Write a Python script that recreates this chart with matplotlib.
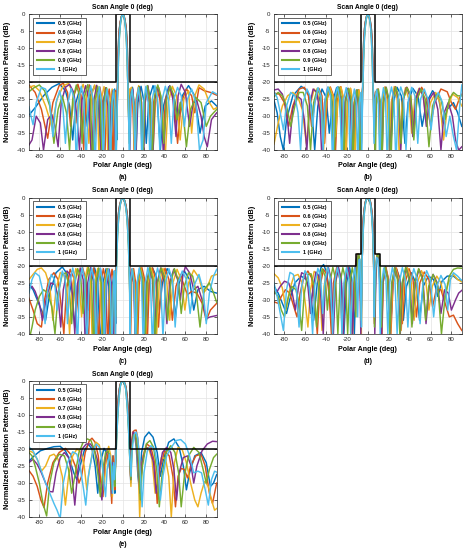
import numpy as np
import matplotlib
matplotlib.use('Agg')
import matplotlib.pyplot as plt

plt.rcParams['font.family'] = ['Liberation Sans', 'DejaVu Sans']
plt.rcParams['axes.unicode_minus'] = False

freq_labels = ['0.5 (GHz)', '0.6 (GHz)', '0.7 (GHz)', '0.8 (GHz)', '0.9 (GHz)', '1 (GHz)']
colors = ['#0072BD', '#D95319', '#EDB120', '#7E2F8E', '#77AC30', '#4DBEEE']
panel_tags = ['(a)', '(b)', '(c)', '(d)', '(e)']
x_ticks = [-80, -60, -40, -20, 0, 20, 40, 60, 80]
y_ticks = [0, -5, -10, -15, -20, -25, -30, -35, -40]

# masks (deg, dB)
mask_deg = [-90, -6.7, -6.7, 6.7, 6.7, 90]
mask_db = [-20, -20, 0, 0, -20, -20]
mask_d_deg = [-90, -11.5, -11.5, -6.7, -6.7, 6.7, 6.7, 11.5, 11.5, 90]
mask_d_db = [-20, -20, -16.5, -16.5, 0, 0, -16.5, -16.5, -20, -20]

# main beams (deg, dB): wide (low freq), mid, narrow (high freq)
beam_ab_w = [(-5, -18), (-4.7, -14), (-4.4, -10.5), (-3.9, -7), (-3.3, -4.3), (-2.4, -2.2), (-1.3, -0.6), (0, 0),
             (1.3, -0.6), (2.4, -2.2), (3.3, -4.3), (3.9, -7), (4.4, -10.5), (4.7, -14), (5, -18)]
beam_ab_m = [(-4.8, -18), (-4.5, -14), (-4.1, -10.5), (-3.6, -7), (-3, -4.3), (-2.2, -2.2), (-1.2, -0.6), (0, 0),
             (1.2, -0.6), (2.2, -2.2), (3, -4.3), (3.6, -7), (4.1, -10.5), (4.5, -14), (4.8, -18)]
beam_ab_n = [(-4.5, -18), (-4.2, -14), (-3.8, -10.5), (-3.3, -7), (-2.7, -4.3), (-2, -2.2), (-1.1, -0.6), (0, 0),
             (1.1, -0.6), (2, -2.2), (2.7, -4.3), (3.3, -7), (3.8, -10.5), (4.2, -14), (4.5, -18)]
beam_c_w = [(-6.6, -22), (-6.4, -17), (-6, -13), (-5.5, -9.5), (-4.8, -6.5), (-4, -4.2), (-3.1, -2.3), (-2, -0.95),
            (-1, -0.25), (0, 0), (1, -0.25), (2, -0.95), (3.1, -2.3), (4, -4.2), (4.8, -6.5), (5.5, -9.5),
            (6, -13), (6.4, -17), (6.6, -22)]
beam_c_m = [(-6.6, -25), (-6.3, -20), (-5.8, -14.5), (-5.2, -10.5), (-4.5, -7), (-3.8, -4.5), (-2.9, -2.5),
            (-1.9, -1), (-0.9, -0.25), (0, 0), (0.9, -0.25), (1.9, -1), (2.9, -2.5), (3.8, -4.5), (4.5, -7),
            (5.2, -10.5), (5.8, -14.5), (6.3, -20), (6.6, -25)]
beam_c_n = [(-6.6, -28), (-6.1, -21), (-5.5, -15), (-4.9, -10.5), (-4.2, -7), (-3.5, -4.5), (-2.7, -2.5),
            (-1.8, -1), (-0.9, -0.25), (0, 0), (0.9, -0.25), (1.8, -1), (2.7, -2.5), (3.5, -4.5), (4.2, -7),
            (4.9, -10.5), (5.5, -15), (6.1, -21), (6.6, -28)]
beam_d_w = [(-5.2, -12), (-4.9, -8.5), (-4.3, -5.5), (-3.4, -3), (-2.5, -1.2), (-1.4, -0.3), (0, 0),
            (1.4, -0.3), (2.5, -1.2), (3.4, -3), (4.3, -5.5), (4.9, -8.5), (5.2, -12)]
beam_d_m = [(-5, -12), (-4.6, -8.5), (-4, -5.5), (-3.2, -3), (-2.3, -1.2), (-1.3, -0.3), (0, 0),
            (1.3, -0.3), (2.3, -1.2), (3.2, -3), (4, -5.5), (4.6, -8.5), (5, -12)]
beam_d_n = [(-4.8, -12), (-4.3, -8.5), (-3.7, -5.5), (-3, -3), (-2.1, -1.2), (-1.2, -0.3), (0, 0),
            (1.2, -0.3), (2.1, -1.2), (3, -3), (3.7, -5.5), (4.3, -8.5), (4.8, -12)]
beam_e_w = [(-6.8, -19), (-6.2, -14), (-5.6, -10.5), (-4.9, -7.2), (-4.1, -4.3), (-3.2, -2.1), (-2.3, -0.85),
            (-1.3, -0.25), (0, 0), (1.3, -0.25), (2.3, -0.85), (3.2, -2.1), (4.1, -4.3), (4.9, -7.2), (5.6, -10.5),
            (6.2, -14), (6.8, -19)]
beam_e_m = [(-6.6, -20), (-5.9, -15), (-5.3, -11), (-4.6, -7.5), (-3.8, -4.5), (-3, -2.2), (-2.2, -0.9),
            (-1.2, -0.25), (0, 0), (1.2, -0.25), (2.2, -0.9), (3, -2.2), (3.8, -4.5), (4.6, -7.5), (5.3, -11),
            (5.9, -15), (6.6, -20)]
beam_e_n = [(-6.4, -21), (-5.7, -15.5), (-5, -11.5), (-4.3, -7.8), (-3.5, -4.7), (-2.8, -2.3), (-2, -0.95),
            (-1.1, -0.25), (0, 0), (1.1, -0.25), (2, -0.95), (2.8, -2.3), (3.5, -4.7), (4.3, -7.8), (5, -11.5),
            (5.7, -15.5), (6.4, -21)]

# ---------------- panel (a) ----------------
a05_l = [(-90, -29.7), (-84, -27.5), (-76, -24), (-68, -21.5), (-61, -20.4), (-55, -22.5), (-51, -27), (-48, -37),
         (-45, -26), (-41, -21.8), (-37, -24), (-34, -33), (-31, -24), (-27, -21), (-24, -25), (-21.5, -39),
         (-19, -26), (-16, -21.8), (-13.5, -26), (-11.5, -40), (-9.5, -27), (-7.8, -22), (-6.5, -26),
         (-5.8, -37), (-5, -21.5)]
a05_r = [(5, -21.5), (5.9, -35), (7.5, -23), (9.3, -21.5), (11, -27), (12.5, -41), (14.5, -26), (17.5, -21.2),
         (20.5, -26), (22.5, -38), (25, -25), (29, -21), (33, -25), (36, -40), (39, -27), (44, -21.3), (49, -24),
         (53, -31), (57, -24), (63, -21), (69, -24), (74, -35), (79, -27), (85, -25.5), (90, -27)]
a06_l = [(-90, -20.8), (-84, -23), (-78, -28), (-72, -36.5), (-67, -26), (-61, -21), (-57, -20.3), (-53, -23),
         (-50, -33), (-47, -24), (-43, -20.6), (-40, -24), (-37.5, -40), (-35, -25), (-32, -20.8), (-29, -25),
         (-27, -37), (-25, -26), (-22, -21.4), (-19.5, -26), (-17.5, -45), (-15.5, -26), (-13, -22), (-11, -28),
         (-9.5, -45), (-8, -24), (-6.8, -22.5), (-6, -34), (-5, -21.5)]
a06_r = [(5, -21.5), (6.1, -33), (7, -22), (8.5, -22.5), (10, -30), (11.2, -45), (12.8, -25), (15, -21.5),
         (17.2, -28), (18.8, -44), (20.5, -26), (23, -21.6), (25.5, -27), (27.5, -40), (29.5, -26), (32.5, -21.7),
         (35.5, -25), (38.5, -36), (41, -25), (45, -21.5), (49, -25), (52.5, -38), (56, -26), (61, -22), (66, -24),
         (69, -29), (73, -21.6), (78, -22.5), (84, -23), (90, -23.8)]
a07_l = [(-90, -21.5), (-85, -21), (-80, -22.5), (-74, -27), (-68, -33), (-63, -25), (-57, -21), (-52, -20.4),
         (-48, -23), (-45, -32), (-42, -24), (-38, -20.6), (-35, -24), (-32.5, -38), (-30, -24), (-27, -20.8),
         (-24.5, -25), (-22.5, -45), (-20.5, -25), (-18, -21.3), (-15.8, -26), (-14, -45), (-12.3, -26),
         (-10.2, -22), (-8.6, -27), (-7.5, -40), (-6.5, -23), (-5.4, -29), (-5, -21.5)]
a07_r = [(5, -21.5), (5.6, -30), (6.8, -22), (8.4, -21.5), (10, -27), (11.5, -45), (13, -26), (15.2, -21),
         (17.5, -26), (19.3, -42), (21.2, -25), (24, -21.2), (26.8, -26), (29, -40), (31.5, -26), (34.5, -21.6),
         (37.5, -26), (40.5, -43), (43.5, -26), (47.5, -21.2), (51.5, -24), (55, -37), (58.5, -25), (63, -22.5),
         (66, -35), (69, -24), (73, -20.8), (78, -22), (83, -26), (87, -28), (90, -27.5)]
a08_l = [(-90, -38.5), (-87, -37), (-83, -30), (-79, -32), (-76, -40), (-72, -31), (-68, -29.5), (-65, -33),
         (-62, -39), (-59, -26), (-55, -21.5), (-51, -20.6), (-47, -23), (-44, -30), (-41.5, -40), (-39, -25),
         (-35.5, -21), (-32.5, -25), (-30, -44), (-27.5, -25), (-25, -20.9), (-22.5, -25), (-20.5, -45),
         (-18.5, -26), (-16.3, -21.6), (-14.3, -27), (-12.8, -45), (-11.2, -27), (-9.5, -22.5), (-8, -27),
         (-6.8, -45), (-5.9, -24), (-5, -21.5)]
a08_r = [(5, -21.5), (5.8, -26), (6.8, -40), (8, -23), (9.6, -22), (11.3, -30), (12.5, -45), (14, -26),
         (16, -21.3), (18, -26), (19.7, -45), (21.5, -26), (24, -21), (26.5, -26), (28.6, -44), (30.8, -25),
         (33.5, -21.1), (36.3, -25), (39, -42), (41.8, -25), (45, -21), (48, -25), (51, -36), (53, -24),
         (56, -20.6), (60, -23), (64, -33), (67.5, -26), (71, -25.5), (75, -30), (78, -36), (81, -39), (85, -31),
         (90, -29)]
a09_l = [(-90, -22.8), (-85, -21.6), (-80, -20.8), (-75, -22.5), (-70, -27), (-66, -38), (-62, -28), (-58, -24),
         (-54, -29), (-51, -40), (-48, -25), (-44.5, -20.8), (-41.5, -24), (-39, -38), (-36.5, -24), (-33.5, -20.7),
         (-31, -25), (-28.8, -45), (-26.5, -25), (-24, -21.2), (-21.8, -25), (-19.8, -42), (-17.8, -25),
         (-15.6, -21.6), (-13.6, -26), (-12, -45), (-10.5, -26), (-8.8, -22.4), (-7.2, -30), (-6.3, -40),
         (-5, -21.5)]
a09_r = [(5, -21.5), (6.2, -38), (7.3, -24), (9, -22.3), (10.8, -27), (12, -40), (13.5, -25), (15.5, -21.3),
         (17.5, -25), (19.3, -45), (21, -25), (23.5, -21), (26, -25), (28.3, -42), (30.5, -24), (33.5, -20.8),
         (36.5, -24), (39.3, -38), (42, -25), (45.5, -21.2), (49, -24), (52, -31), (55, -26), (58, -30), (61, -39),
         (65, -28), (70, -24.5), (75, -26), (80, -33), (84, -30), (90, -28)]
a10_l = [(-90, -27.2), (-88, -30), (-86, -32.5), (-83, -26), (-78, -21.5), (-74, -22), (-70, -26), (-67, -36),
         (-64, -26), (-60.5, -22.5), (-57.5, -27), (-55, -38), (-52.5, -26), (-49.5, -21.8), (-46.5, -25),
         (-44.5, -45), (-42.5, -26), (-39.8, -21.2), (-37.3, -25), (-35.2, -45), (-33.2, -25), (-30.8, -21),
         (-28.5, -25), (-26.5, -45), (-24.6, -26), (-22.4, -21.4), (-20.3, -26), (-18.6, -45), (-17, -26),
         (-15, -22), (-13.2, -27), (-11.8, -45), (-10.4, -26), (-8.8, -22.2), (-7.4, -28), (-6.4, -45), (-5, -21.5)]
a10_r = [(5, -21.5), (5.6, -30), (6.3, -45), (7.4, -25), (8.9, -22), (10.5, -27), (11.8, -45), (13.2, -26),
         (15, -21.6), (16.8, -26), (18.4, -45), (20, -26), (22.1, -21.2), (24.3, -26), (26.2, -45), (28.2, -25),
         (30.8, -21), (33.3, -25), (35.5, -40), (37.8, -25), (40.8, -21.2), (43.8, -25), (46.5, -38), (49, -25),
         (52.5, -21.5), (56, -24), (59, -33), (62, -25), (66, -22), (70, -26), (73.5, -40), (77, -37), (80, -26),
         (86, -22.8), (90, -23.5)]

# ---------------- panel (b) ----------------
b05_l = [(-90, -25.3), (-87, -29), (-84, -36), (-81, -40), (-78, -31), (-72, -24), (-64, -21.2), (-58, -22.5),
         (-54, -27), (-51, -40), (-48, -27), (-44, -22), (-40, -24.5), (-37, -35), (-34, -26), (-30, -21.6),
         (-27, -25), (-24.5, -40), (-22, -26), (-19, -22), (-16.5, -26), (-14.5, -45), (-12.5, -27), (-10, -22.3),
         (-8, -26), (-6.6, -42), (-5.5, -30), (-5, -21.5)]
b05_r = [(5, -21.5), (5.8, -33), (7, -24), (8.8, -22.2), (10.6, -27), (12, -45), (13.8, -26), (16.5, -21.8),
         (19.5, -25), (22, -38), (24.5, -26), (28, -21.5), (32, -24), (35.5, -38), (38.5, -26), (43, -21.8),
         (48, -24), (52, -33), (56, -26), (62, -22.5), (68, -25), (72, -32), (76, -28), (82, -26), (86, -29),
         (90, -33)]
b06_l = [(-90, -23.2), (-85, -23.5), (-80, -26), (-76, -33), (-72, -27), (-66, -22), (-61, -21.5), (-57, -24),
         (-54, -33), (-51, -26), (-47, -21.8), (-44, -24), (-41.5, -38), (-39, -25), (-36, -21.4), (-33, -24),
         (-31, -40), (-29, -25), (-26, -21.3), (-23.5, -25), (-21.5, -45), (-19.5, -26), (-16.8, -21.8),
         (-14.6, -26), (-12.8, -45), (-11, -26), (-8.8, -22.2), (-7.2, -27), (-6, -34), (-5, -21.5)]
b06_r = [(5, -21.5), (6, -30), (7.3, -23), (9, -22.2), (10.8, -28), (12.2, -45), (14, -25), (16.5, -21.4),
         (19, -25), (21, -41), (23, -26), (26, -21.3), (29, -24), (31.5, -37), (34, -25), (37.5, -21.5), (41, -24),
         (44, -34), (47, -25), (51.5, -21.5), (56, -24), (60, -33), (64, -26), (70, -22), (76, -22.8), (80, -26),
         (84, -28), (88, -24.5), (90, -23.5)]
b07_l = [(-90, -38.2), (-86, -32), (-82, -27), (-77, -24), (-72, -23), (-67, -24.5), (-63, -28), (-59, -38),
         (-55.5, -27), (-51.5, -22), (-48, -23.5), (-45, -30), (-42.5, -40), (-40, -26), (-36.5, -21.5),
         (-33.5, -24), (-31, -36), (-28.8, -26), (-25.8, -21.4), (-23.2, -25), (-21.2, -45), (-19.2, -26),
         (-16.6, -21.8), (-14.4, -26), (-12.6, -45), (-10.8, -27), (-8.6, -22.3), (-7, -27), (-6.2, -38),
         (-5, -21.5)]
b07_r = [(5, -21.5), (5.9, -36), (7.2, -24), (8.8, -22), (10.5, -27), (11.9, -45), (13.6, -26), (16, -21.5),
         (18.4, -25), (20.4, -40), (22.4, -26), (25.2, -21.3), (28, -25), (30.4, -45), (32.8, -26), (36, -21.6),
         (39.2, -25), (42, -35), (45, -25), (49, -21.8), (53, -24), (56.5, -32), (60, -26), (65, -23), (69, -26),
         (72.5, -37), (76, -28), (81, -23.5), (86, -24.5), (90, -27)]
b08_l = [(-90, -22.3), (-86, -22), (-82, -23.5), (-78, -28), (-75, -38), (-72, -28), (-68, -24), (-64, -25),
         (-61, -31), (-58.5, -40), (-56, -27), (-52.5, -22), (-49, -23), (-46, -29), (-43.8, -45), (-41.5, -26),
         (-38.5, -21.5), (-35.8, -24), (-33.5, -37), (-31.3, -26), (-28.5, -21.4), (-25.8, -25), (-23.8, -45),
         (-21.8, -26), (-19.2, -21.8), (-16.9, -25), (-15, -45), (-13.3, -27), (-11.1, -22.3), (-9.2, -26),
         (-7.8, -45), (-6.6, -27), (-5.6, -24), (-5, -21.5)]
b08_r = [(5, -21.5), (5.6, -24), (6.6, -40), (7.9, -25), (9.7, -22), (11.6, -26), (13.3, -45), (15, -26),
         (17.4, -21.5), (19.8, -25), (21.7, -44), (23.6, -25), (26.4, -21.4), (29.2, -25), (31.5, -40), (33.8, -25),
         (37, -21.5), (40.2, -24), (43, -36), (45.8, -25), (49.5, -21.8), (53, -24), (56, -33), (59, -25), (63, -23),
         (67, -28), (70, -40), (73, -29), (77, -26), (81, -30), (84, -37), (87, -40), (90, -39)]
b09_l = [(-90, -24.3), (-86, -23), (-82, -24), (-78, -27), (-74, -33), (-70, -27), (-66, -23), (-62, -23),
         (-58, -27), (-55, -40), (-52, -26), (-48.5, -21.8), (-45.5, -24), (-43, -35), (-40.5, -26), (-37.6, -21.5),
         (-34.8, -24), (-32.6, -45), (-30.4, -25), (-27.6, -21.4), (-25, -25), (-23, -41), (-21, -25),
         (-18.5, -21.8), (-16.2, -25), (-14.4, -45), (-12.7, -26), (-10.5, -22.2), (-8.6, -27), (-7.3, -45),
         (-6.1, -26), (-5, -21.5)]
b09_r = [(5, -21.5), (6, -28), (7, -45), (8.3, -24), (10, -22), (11.9, -26), (13.5, -44), (15.2, -25),
         (17.6, -21.5), (20, -25), (22, -45), (24, -25), (26.8, -21.4), (29.6, -25), (31.8, -38), (34, -25),
         (37.5, -21.6), (41, -24), (44, -37), (47, -25), (51, -22), (55, -25), (58.5, -39), (62, -27), (66, -23.5),
         (70, -25), (74, -31), (78, -25), (82, -23), (86, -24), (90, -24)]
b10_l = [(-90, -22.8), (-87, -24.5), (-84, -29), (-81, -34), (-78, -27), (-74, -23), (-70, -24), (-67, -29),
         (-64.5, -40), (-62, -26), (-58.5, -22), (-55.5, -24), (-53, -33), (-50.8, -26), (-47.8, -21.6), (-45, -24),
         (-43, -40), (-41, -25), (-38.3, -21.4), (-35.8, -24), (-33.8, -45), (-31.8, -25), (-29.2, -21.3),
         (-26.8, -25), (-25, -45), (-23.2, -25), (-20.8, -21.6), (-18.6, -25), (-16.9, -45), (-15.2, -26),
         (-13, -22), (-11.1, -26), (-9.7, -45), (-8.3, -26), (-6.8, -23), (-5.8, -40), (-5, -21.5)]
b10_r = [(5, -21.5), (5.9, -38), (6.9, -25), (8.4, -22.2), (10, -26), (11.4, -45), (12.9, -26), (14.9, -21.6),
         (16.9, -25), (18.6, -45), (20.3, -25), (22.6, -21.4), (24.9, -25), (26.9, -45), (28.9, -25), (31.5, -21.4),
         (34.1, -24), (36.5, -40), (38.9, -25), (42, -21.5), (45, -24), (47.8, -38), (50.5, -25), (54, -22),
         (57.5, -25), (60.5, -34), (63.5, -26), (67.5, -23), (71.5, -26), (75, -36), (78.5, -30), (82, -36),
         (85, -40), (88, -27), (90, -20.8)]

# ---------------- panel (c) ----------------
c05_l = [(-90, -25.5), (-86, -27), (-82, -30), (-78, -33), (-74, -36), (-70, -28), (-64, -22), (-58, -20.3),
         (-53, -22.5), (-49, -28), (-46, -38), (-43, -26), (-39, -21), (-35.5, -24), (-33, -33), (-30.5, -25),
         (-27, -20.6), (-24, -24), (-21.5, -45), (-19, -25), (-16, -20.8), (-13.5, -25), (-11.8, -45), (-10, -26),
         (-8.2, -21.5), (-7.4, -26), (-6.8, -37)]
c05_r = [(6.8, -36), (7.6, -23), (9, -20.9), (11, -26), (12.4, -45), (14.2, -25), (17, -20.7), (20, -24),
         (22.5, -40), (25, -25), (28.5, -20.6), (32, -23), (35, -33), (38, -25), (42.5, -20.8), (47, -23.5),
         (50.5, -35), (54, -25), (59, -21.5), (64, -24), (68, -33), (72, -27), (78, -26), (84, -27.5), (90, -28)]
c06_l = [(-90, -29.5), (-86, -33), (-82, -37), (-78, -38), (-75, -30), (-71, -24), (-66, -22), (-62, -24),
         (-59, -32), (-56.5, -40), (-54, -27), (-50.5, -21), (-47, -23.5), (-44.5, -34), (-42, -25), (-38.5, -20.5),
         (-35.5, -24), (-33.2, -45), (-31, -25), (-28, -20.6), (-25.4, -24), (-23.3, -45), (-21.2, -25),
         (-18.6, -20.8), (-16.2, -25), (-14.4, -45), (-12.6, -26), (-10.3, -21), (-8.4, -25), (-7.3, -45)]
c06_r = [(7.2, -45), (8.5, -25), (10.4, -20.8), (12.3, -25), (14, -45), (15.8, -25),
         (18.3, -20.5), (21, -24), (23.2, -45), (25.4, -25), (28.5, -20.6), (31.6, -24), (34.2, -38), (36.8, -25),
         (40.5, -20.7), (44.2, -24), (47.5, -36), (51, -26), (55, -22.5), (59, -26), (62, -28.5), (66, -27.5),
         (71, -28), (76, -31), (80, -36), (84, -33), (90, -31)]
c07_l = [(-90, -24), (-86, -22.5), (-82, -21), (-78, -20.6), (-74, -22), (-70, -26), (-67, -36), (-64, -27),
         (-60, -22), (-56.5, -22.5), (-53.5, -27), (-51, -40), (-48.5, -26), (-45, -20.8), (-42, -23.5),
         (-39.5, -35), (-37, -25), (-34, -20.5), (-31.2, -24), (-29, -45), (-26.8, -25), (-24, -20.7), (-21.4, -25),
         (-19.4, -45), (-17.4, -25), (-14.9, -20.8), (-12.6, -25), (-10.9, -45), (-9.3, -26), (-8, -22),
         (-7, -30)]
c07_r = [(6.9, -40), (7.8, -24), (9.4, -20.9), (11.3, -25), (13, -45), (14.8, -25), (17.2, -20.6),
         (19.6, -24), (21.8, -42), (24, -25), (27, -20.5), (30, -24), (32.5, -40), (35, -25), (38.5, -20.7),
         (42, -24), (45, -36), (48, -25), (52, -21), (56, -24), (59.5, -33), (63, -25), (68, -21.2), (73, -23.5),
         (77, -28), (80, -27), (85, -23), (90, -22.5)]
c08_l = [(-90, -26.5), (-87, -26), (-84, -27.5), (-80, -31), (-77, -36), (-73, -29), (-69, -25), (-65, -25.5),
         (-62, -29), (-59.5, -38), (-57, -27), (-53.5, -21.5), (-50.5, -22.5), (-48, -29), (-46, -40), (-43.8, -26),
         (-40.8, -20.6), (-38, -24), (-35.8, -45), (-33.6, -25), (-30.8, -20.5), (-28.2, -24), (-26.2, -45),
         (-24.2, -25), (-21.6, -20.7), (-19.2, -25), (-17.3, -45), (-15.5, -26), (-13.1, -20.9), (-11, -25),
         (-9.4, -45), (-8.2, -26), (-7.6, -23), (-6.9, -33)]
c08_r = [(6.9, -37), (7.5, -24), (8.6, -21), (10.5, -25), (12.1, -45), (13.8, -25), (16.2, -20.7),
         (18.6, -24), (20.7, -45), (22.8, -25), (25.6, -20.6), (28.4, -24), (30.7, -40), (33, -25), (36.3, -20.6),
         (39.6, -24), (42.3, -37), (45, -25), (48.8, -21), (52.5, -24), (55.2, -30), (57.5, -23), (60, -20.2),
         (64, -22), (68, -27), (72, -26), (76, -30), (80, -35.5), (84, -35), (90, -34.6)]
c09_l = [(-90, -42), (-87, -38), (-84, -33), (-80, -29), (-76, -27), (-72, -28), (-68, -32), (-65, -40), (-62, -28),
         (-58, -22.5), (-54.5, -22), (-51.5, -26), (-49, -37), (-46.5, -26), (-43.2, -20.8), (-40.3, -23.5),
         (-38, -34), (-35.8, -25), (-32.8, -20.5), (-30, -24), (-27.9, -45), (-25.8, -25), (-23.1, -20.6),
         (-20.6, -25), (-18.6, -45), (-16.7, -25), (-14.3, -20.8), (-12.1, -25), (-10.5, -45), (-8.9, -26),
         (-7.8, -22), (-7, -35)]
c09_r = [(7, -45), (7.6, -25), (9.1, -20.9), (11, -25), (12.6, -45), (14.3, -25), (16.6, -20.6),
         (19, -24), (21.1, -44), (23.2, -25), (26, -20.5), (28.8, -24), (31.1, -42), (33.4, -25), (36.8, -20.6),
         (40.2, -24), (43, -36), (45.8, -25), (49.5, -20.8), (53, -24), (56, -34), (59, -26), (63, -22), (67, -23),
         (70.5, -28), (74, -38), (78, -27), (83, -25), (87, -28), (90, -30.7)]
c10_l = [(-90, -28), (-87, -24), (-84, -22), (-80, -23), (-77, -27), (-74.5, -37), (-72, -27), (-68.5, -22.5),
         (-65.5, -24), (-63, -33), (-61, -27), (-58, -21.5), (-55.3, -23.5), (-53, -37), (-50.8, -25), (-48, -20.6),
         (-45.5, -24), (-43.5, -45), (-41.5, -25), (-38.9, -20.5), (-36.4, -24), (-34.4, -45), (-32.4, -25),
         (-29.9, -20.6), (-27.5, -24), (-25.6, -45), (-23.8, -25), (-21.4, -20.7), (-19.2, -25), (-17.6, -45),
         (-16, -25), (-13.8, -20.9), (-11.9, -25), (-10.4, -45), (-9, -26), (-8, -21.5), (-7, -45)]
c10_r = [(6.9, -45), (7.6, -24), (9.1, -20.8), (10.8, -25), (12.2, -45), (13.7, -25),
         (15.8, -20.6), (17.9, -24), (19.7, -45), (21.5, -25), (24, -20.5), (26.5, -24), (28.5, -45), (30.5, -25),
         (33.3, -20.6), (36.1, -24), (38.5, -41), (40.9, -25), (44.2, -20.8), (47.5, -24), (50.2, -38), (53, -25),
         (57, -21.5), (61, -24), (64.5, -34), (68, -26), (73, -22.5), (77, -27), (80, -37), (83, -28), (87, -23),
         (90, -21)]

# ---------------- panel (d) ----------------
d05_l = [(-90, -26), (-86, -28), (-82, -31), (-78, -34), (-75, -30), (-70, -25), (-64, -23), (-59, -24), (-55, -28),
         (-52, -36), (-48.5, -25), (-45, -20.5), (-42.5, -19.6), (-40, -21.5), (-37, -27), (-34.5, -39), (-32, -25),
         (-28.5, -20.8), (-25.5, -24), (-23, -40), (-20.5, -25), (-17.5, -20.5), (-15, -25), (-13, -40),
         (-11.5, -24), (-10, -17), (-8.8, -16.6), (-7.6, -20), (-6.6, -34), (-5.4, -17)]
d05_r = [(5.4, -17), (6.5, -36), (7.6, -21), (8.8, -17.2), (10.2, -18), (11.5, -26), (12.7, -40), (14.2, -24),
         (16.8, -20.3), (19.5, -24), (21.8, -38), (24, -25), (27.5, -21), (31, -24), (34, -36), (37, -26),
         (41.5, -22), (46, -25), (49.5, -36), (53, -26), (58, -23), (63, -24), (67, -29), (71, -24.5), (76, -23),
         (82, -23), (86, -24), (90, -24.3)]
d06_l = [(-90, -30.6), (-86, -31), (-83, -29), (-79, -27), (-75, -28), (-71, -32), (-68, -35), (-65, -28),
         (-61, -23), (-57.5, -21.5), (-54, -23.5), (-51, -31), (-48.5, -40), (-46, -26), (-42.5, -21),
         (-39.5, -22.5), (-37, -29), (-35, -40), (-33, -25), (-29.8, -20.3), (-26.8, -24), (-24.6, -40),
         (-22.4, -25), (-19.6, -20.6), (-17, -24), (-15.2, -40), (-13.5, -25), (-11.4, -18.5), (-9.8, -16.5),
         (-8.3, -18), (-7.2, -24), (-6.3, -38), (-5.4, -17)]
d06_r = [(5.4, -17), (6.2, -37), (7.2, -22), (8.6, -17), (10, -16.6), (11.3, -20), (12.5, -30), (13.5, -40),
         (14.8, -24), (17.3, -20.4), (19.8, -24), (22, -40), (24.2, -25), (27.3, -20.6), (30.4, -24), (33, -37),
         (35.6, -25), (39.4, -20.8), (43.2, -24), (46.5, -35), (49.8, -25), (54, -21.8), (58.5, -24), (62, -32),
         (65.5, -27), (70, -27), (74, -31), (78, -35), (82, -34.5), (86, -37), (90, -39)]
d07_l = [(-90, -22.3), (-86, -23.5), (-82, -26.5), (-78.5, -33), (-75, -27), (-71, -23), (-67, -22.5), (-63, -25),
         (-60, -31), (-57.5, -38), (-55, -27), (-51.5, -21.6), (-48.5, -22.5), (-46, -28), (-44, -39), (-42, -26),
         (-38.8, -20.6), (-36, -23), (-33.8, -34), (-31.6, -26), (-28.6, -20.4), (-25.9, -24), (-23.8, -40),
         (-21.7, -25), (-19, -20.5), (-16.5, -24), (-14.6, -40), (-12.8, -25), (-10.5, -17.5), (-9.2, -16.5),
         (-7.9, -19), (-6.9, -30), (-6.3, -40), (-5.4, -17)]
d07_r = [(5.4, -17), (6.4, -33), (7.3, -21), (8.9, -16.6), (10.3, -17.5), (11.8, -24), (13, -40), (14.5, -25),
         (17, -20.5), (19.5, -24), (21.6, -40), (23.7, -25), (26.6, -20.6), (29.5, -24), (31.9, -39), (34.3, -25),
         (37.8, -20.5), (41.3, -24), (44.3, -36), (47.3, -25), (51.3, -21.4), (55.3, -24), (58.5, -33),
         (61.7, -26), (66, -23), (70, -25), (73.5, -30), (77, -25), (82, -22.5), (86, -24), (90, -24.7)]
d08_l = [(-90, -28.2), (-87, -27.5), (-84, -26), (-80, -24.5), (-76, -25), (-72.5, -28), (-69.5, -33), (-66.5, -26),
         (-63.5, -22), (-60.5, -22.5), (-57.5, -26), (-55, -34), (-52.8, -27), (-49.8, -21.8), (-47, -23),
         (-44.8, -30), (-42.8, -40), (-40.8, -25), (-37.8, -20.5), (-35.2, -24), (-33.1, -40), (-31, -25),
         (-28.2, -20.4), (-25.6, -24), (-23.6, -40), (-21.6, -25), (-18.9, -20.5), (-16.5, -24), (-14.7, -40),
         (-12.9, -25), (-10.8, -18), (-9.4, -16.8), (-8, -19), (-6.8, -40), (-5.4, -17)]
d08_r = [(5.4, -17), (6.6, -40), (7.8, -21), (9.2, -16.8), (10.7, -18.5), (12.2, -26), (13.2, -40), (14.5, -25),
         (16.8, -20.6), (19.1, -24), (21.1, -40), (23.1, -25), (25.9, -20.5), (28.7, -24), (31, -40), (33.3, -25),
         (36.6, -20.6), (39.9, -24), (42.6, -37), (45.3, -25), (49, -21), (52.7, -24), (55.7, -37), (58.7, -26),
         (62.5, -22.5), (66.5, -25), (70, -34), (73.5, -27), (77, -28), (80, -33), (84, -30), (87, -28),
         (90, -27.2)]
d09_l = [(-90, -27.5), (-86, -29), (-83, -33), (-80, -35), (-77, -30), (-73, -26), (-69, -27), (-66, -31),
         (-63.5, -39), (-61, -28), (-57.5, -22.5), (-54.5, -22.3), (-51.5, -26), (-49.2, -38), (-47, -26),
         (-43.8, -20.8), (-41, -23), (-38.8, -33), (-36.6, -25), (-33.6, -20.4), (-30.9, -24), (-28.8, -40),
         (-26.7, -25), (-24, -20.5), (-21.4, -24), (-19.4, -40), (-17.4, -25), (-15, -20.5), (-12.9, -24),
         (-11.5, -35), (-10.3, -18.5), (-9, -16.6), (-7.7, -18.5), (-6.5, -36), (-5.4, -17)]
d09_r = [(5.4, -17), (6.3, -38), (7.5, -20), (9, -17), (10.5, -16.5), (11.8, -20), (12.9, -38), (14.3, -24),
         (16.6, -20.4), (18.9, -24), (20.9, -40), (22.9, -25), (25.6, -20.5), (28.3, -24), (30.6, -40), (32.9, -25),
         (36.2, -20.4), (39.5, -24), (42.2, -38), (44.9, -25), (48.6, -20.8), (52.3, -24), (55.3, -36),
         (58.3, -26), (62.5, -22.5), (67, -26), (70.5, -40), (74, -29), (78, -23), (82, -21), (86, -20.6),
         (90, -20.7)]
d10_l = [(-90, -25), (-87, -29), (-84, -34), (-81, -39), (-78, -27), (-74.7, -21.9), (-71.5, -22.5), (-68.5, -27),
         (-66, -38), (-63.5, -26), (-60.3, -21.4), (-57.4, -23), (-55, -30), (-53, -40), (-51, -26), (-48, -20.7),
         (-45.4, -23), (-43.3, -34), (-41.3, -25), (-38.5, -20.4), (-35.9, -24), (-33.9, -40), (-31.9, -25),
         (-29.3, -20.4), (-26.8, -24), (-24.9, -40), (-23, -25), (-20.5, -20.5), (-18.2, -24), (-16.5, -40),
         (-14.8, -25), (-12.6, -20.5), (-11, -25), (-9.8, -35), (-8.6, -18.2), (-7.6, -18), (-6.8, -30),
         (-6.2, -38), (-5.4, -17)]
d10_r = [(5.4, -17), (6.1, -35), (6.9, -22), (8.3, -17.5), (9.6, -18), (10.8, -24), (11.8, -40), (13.1, -25),
         (15.2, -20.6), (17.3, -24), (19.1, -40), (20.9, -25), (23.4, -20.5), (25.9, -24), (28, -40), (30.1, -25),
         (33, -20.5), (35.9, -24), (38.3, -38), (40.7, -25), (44, -20.8), (47.3, -24), (50, -37), (52.7, -25),
         (56.3, -21.4), (59.9, -24), (63, -35), (66, -26), (70, -22.8), (74, -25.5), (76.5, -33), (79, -24),
         (82, -22), (86, -23), (90, -24.3)]

# ---------------- panel (e) ----------------
e05_l = [(-90, -23.6), (-85, -22), (-79, -20.5), (-72, -19.8), (-66, -19.3), (-60, -19.2), (-55, -20.5), (-51, -23),
         (-47, -27), (-44, -29), (-41, -25), (-37, -20.5), (-33, -18.6), (-29.5, -20), (-26.5, -25), (-24, -33),
         (-21.5, -24), (-18, -19.8), (-15, -21.5), (-12.5, -26), (-10.8, -34), (-9.5, -22), (-8.4, -26),
         (-7.6, -33)]
e05_r = [(7.6, -30), (8.5, -20), (10, -15.5), (11.5, -16), (13, -20), (14.5, -28), (16, -32), (18, -21),
         (21, -16.5), (25, -15), (29, -16.5), (33, -21), (36, -28), (39, -23), (44, -18), (49, -17), (54, -19.5),
         (58, -25), (61, -32), (64, -27), (69, -22), (75, -21), (80, -24), (84, -31), (87, -30), (90, -27.5)]
e06_l = [(-90, -26.3), (-86, -28), (-82, -31), (-78.5, -35), (-75.5, -37.2), (-72, -30), (-67, -24), (-61, -21),
         (-55, -19.8), (-50, -21.5), (-45.5, -25), (-42, -30), (-39.5, -28), (-36, -21), (-32, -17.5),
         (-29.5, -16.8), (-26.5, -18), (-23.5, -22), (-21, -30), (-19, -34), (-17, -25), (-14.5, -21.5),
         (-12.3, -25), (-10.6, -36), (-9.2, -22), (-8.2, -28), (-7.5, -32)]
e06_r = [(7.5, -28), (8.4, -18), (9.6, -15), (11.2, -14.5), (12.8, -14.4), (14.4, -17), (16, -23), (17.5, -28.5),
         (19.5, -22), (23, -18.5), (27, -19.5), (30.5, -24), (33, -36), (35.5, -26), (40, -20.5), (44.5, -22),
         (48, -28), (50.5, -37), (53, -28), (56, -25.7), (59, -26), (62, -28.5), (65, -25), (70, -22),
         (75, -21.5), (79, -25), (83, -33), (86, -36), (88, -33), (90, -30)]
e07_l = [(-90, -20.5), (-86, -21), (-82, -23), (-78, -26.5), (-74, -25), (-70, -22), (-66, -21.5), (-62, -23),
         (-58, -28), (-55, -36.5), (-52, -28), (-48, -22), (-44, -20), (-40, -21), (-37, -25), (-34.5, -32),
         (-32, -26), (-28.5, -20), (-25.5, -18), (-22.5, -18.8), (-20, -23), (-18, -32), (-16, -22),
         (-13.5, -19.2), (-11.5, -22), (-10, -34), (-8.8, -24), (-7.8, -31)]
e07_r = [(7.8, -31), (8.8, -19), (10.2, -15.8), (11.8, -16), (13.4, -19.5), (15, -28), (16.2, -40), (18, -25),
         (21, -20), (24.5, -19.5), (28, -23), (31, -33), (33.5, -28), (37, -22.5), (41, -22.8), (44, -28),
         (46.5, -40), (49.5, -24), (53, -19.5), (57, -20.2), (61, -24), (65, -30), (69, -35), (72, -37),
         (75, -33), (78.5, -29.5), (82, -31), (85, -35), (88, -38), (90, -37.5)]
e08_l = [(-90, -24), (-86, -23), (-82, -24.5), (-78, -27), (-74, -30), (-70, -32.5), (-67, -32.6), (-64, -27),
         (-60, -22.5), (-56, -21), (-52, -22.5), (-49, -27), (-46, -36.5), (-43, -26), (-39, -20), (-35, -18.5),
         (-31, -18.5), (-27.5, -20), (-24.5, -23), (-22, -31), (-20, -35), (-18, -25), (-15.5, -20.5),
         (-13, -21.5), (-11.5, -26), (-10.3, -33), (-9.2, -24), (-8.2, -26), (-7.6, -30)]
e08_r = [(7.6, -29), (8.6, -18), (10, -15), (11.8, -15.5), (13.5, -19), (15, -26), (16.5, -33), (18.5, -24),
         (22, -19.5), (26, -20), (29.5, -24), (32, -33), (34.5, -27), (38, -21), (42, -19.5), (46, -21), (49, -26),
         (51.5, -35), (54, -27), (58, -22.5), (62, -22), (65.5, -25), (68, -30), (71, -25), (76, -20.5),
         (81, -18.5), (86, -17.7), (90, -17.8)]
e09_l = [(-90, -21), (-87, -22), (-84, -25), (-80, -30), (-76.5, -36), (-73, -39.7), (-70, -30), (-66, -24),
         (-61, -21.5), (-56, -22), (-52, -26), (-49, -33), (-46, -28), (-42, -21), (-38, -18), (-34, -17),
         (-30.5, -17.5), (-27, -20.5), (-24, -27), (-21.5, -34), (-19, -26), (-16.5, -21), (-14, -20.5),
         (-12, -24), (-10.5, -32), (-9.3, -25), (-8.3, -27), (-7.7, -31)]
e09_r = [(7.7, -29), (8.7, -19.5), (10.1, -16), (11.7, -15.5), (13.3, -17.5), (15, -23), (16.8, -35), (18.8, -25),
         (22.5, -18.5), (26, -17.5), (29.5, -19.5), (32.5, -26), (35, -37), (37.5, -28), (41.5, -21), (46, -19),
         (50, -21), (53.5, -27), (56, -37), (59, -28), (63, -22), (68, -19.5), (73, -21), (77, -26), (80, -30),
         (83, -26), (87, -22.5), (90, -21.5)]
e10_l = [(-90, -19.4), (-86, -20.5), (-82, -23), (-78, -26.5), (-74, -30), (-70, -33), (-66, -36), (-63, -38),
         (-60, -40.5), (-57, -30), (-53, -24), (-48, -20.8), (-44, -21.5), (-41, -25), (-38, -31), (-35.5, -36.5),
         (-33, -28), (-29, -21), (-25.5, -18.5), (-22.5, -19.5), (-20, -23.5), (-18, -30), (-16.5, -34),
         (-15, -26), (-12.8, -21.5), (-11, -24.5), (-9.8, -33), (-8.8, -24), (-7.9, -29)]
e10_r = [(7.9, -28), (8.8, -21), (10, -17.5), (11.3, -15.5), (12.8, -15), (14.2, -16.5), (15.6, -21), (17, -28),
         (18.5, -37), (20.3, -27), (23.5, -20.5), (27, -19), (30.5, -20), (33.5, -25), (36, -35), (38.5, -28),
         (42, -22), (46.5, -19.5), (51, -17.5), (55.5, -17.2), (60, -18.5), (64, -22), (68, -27), (72, -26.5),
         (75.5, -27), (79, -32), (82, -36.5), (85, -29), (88, -26.5), (90, -26.8)]

panels = [
    ([(a05_l, a05_r), (a06_l, a06_r), (a07_l, a07_r), (a08_l, a08_r), (a09_l, a09_r), (a10_l, a10_r)],
     [beam_ab_w, beam_ab_w, beam_ab_m, beam_ab_m, beam_ab_n, beam_ab_n], mask_deg, mask_db),
    ([(b05_l, b05_r), (b06_l, b06_r), (b07_l, b07_r), (b08_l, b08_r), (b09_l, b09_r), (b10_l, b10_r)],
     [beam_ab_w, beam_ab_w, beam_ab_m, beam_ab_m, beam_ab_n, beam_ab_n], mask_deg, mask_db),
    ([(c05_l, c05_r), (c06_l, c06_r), (c07_l, c07_r), (c08_l, c08_r), (c09_l, c09_r), (c10_l, c10_r)],
     [beam_c_w, beam_c_w, beam_c_m, beam_c_m, beam_c_n, beam_c_n], mask_deg, mask_db),
    ([(d05_l, d05_r), (d06_l, d06_r), (d07_l, d07_r), (d08_l, d08_r), (d09_l, d09_r), (d10_l, d10_r)],
     [beam_d_w, beam_d_w, beam_d_m, beam_d_m, beam_d_n, beam_d_n], mask_d_deg, mask_d_db),
    ([(e05_l, e05_r), (e06_l, e06_r), (e07_l, e07_r), (e08_l, e08_r), (e09_l, e09_r), (e10_l, e10_r)],
     [beam_e_w, beam_e_w, beam_e_m, beam_e_m, beam_e_n, beam_e_n], mask_deg, mask_db),
]

# axes boxes in figure fractions (left, bottom, width, height)
boxes = [[0.062, 0.727, 0.403, 0.247], [0.588, 0.727, 0.403, 0.247],
         [0.062, 0.393, 0.403, 0.247], [0.588, 0.393, 0.403, 0.247],
         [0.062, 0.060, 0.403, 0.247]]

fig = plt.figure(figsize=(4.66, 5.5), dpi=100)

for (curves, beams, mk_x, mk_y), box, tag in zip(panels, boxes, panel_tags):
    ax = fig.add_axes(box)
    for (left, right), beam, col, name in zip(curves, beams, colors, freq_labels):
        pts = np.array(left + beam + right)
        ax.plot(pts[:, 0], pts[:, 1], color=col, lw=1.05, label=name)
    ax.plot(mk_x, mk_y, color='k', lw=1.1)

    ax.set_xlim(-90, 90)
    ax.set_ylim(-40, 0)
    ax.set_xticks(x_ticks)
    ax.set_yticks(y_ticks)
    ax.grid(True, color='#e3e3e3', lw=0.5)
    ax.set_axisbelow(True)
    ax.tick_params(direction='in', length=2, width=0.5, labelsize=4.4, colors='#262626',
                   pad=2.5, top=True, right=True)
    for sp in ax.spines.values():
        sp.set_color('#262626')
        sp.set_linewidth(0.5)

    ax.set_title('Scan Angle 0 (deg)', fontsize=4.9, fontweight='bold', pad=4)
    ax.set_xlabel('Polar Angle (deg)', fontsize=5.1, fontweight='bold', labelpad=2.5)
    ax.set_ylabel('Normalized Radiation Pattern (dB)', fontsize=5.3, fontweight='bold', labelpad=4)
    ax.text(0.5, -0.2, tag, transform=ax.transAxes, ha='center', va='center',
            fontsize=5, fontweight='bold')

    leg = ax.legend(loc='upper left', bbox_to_anchor=(0.023, 0.976), borderaxespad=0,
                    prop={'size': 3.9, 'weight': 'bold'}, handlelength=3.1, labelspacing=0.75,
                    borderpad=0.7, handletextpad=0.8, fancybox=False, framealpha=1)
    leg.get_frame().set_edgecolor('#262626')
    leg.get_frame().set_linewidth(0.5)
    for ln in leg.get_lines():
        ln.set_linewidth(1.5)

fig.savefig('out.png', dpi=100)
